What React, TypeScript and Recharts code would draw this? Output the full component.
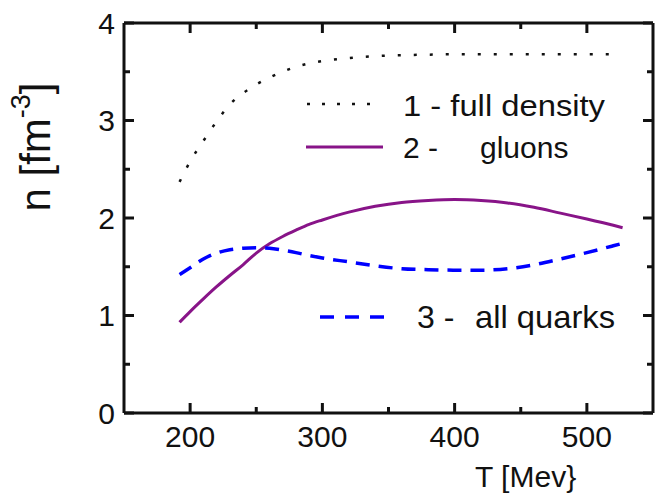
import { LineChart, Line, XAxis, YAxis, Legend, Label } from 'recharts';

const FONT = '"Liberation Sans", Arial, sans-serif';

const T = [192, 200, 210, 220, 230, 240, 250, 260, 270, 280, 290, 300, 320, 340, 360, 380, 400, 420, 440, 460, 480, 500, 520, 527];
const FULL = [2.37, 2.58, 2.79, 2.99, 3.165, 3.28, 3.37, 3.44, 3.5, 3.55, 3.585, 3.61, 3.64, 3.66, 3.67, 3.675, 3.68, 3.68, 3.68, 3.68, 3.68, 3.68, 3.68, null];
const GLUONS = [0.93, 1.04, 1.17, 1.295, 1.41, 1.52, 1.64, 1.735, 1.81, 1.875, 1.935, 1.98, 2.06, 2.12, 2.16, 2.18, 2.19, 2.18, 2.155, 2.11, 2.05, 1.99, 1.925, 1.9];
const QUARKS = [1.42, 1.49, 1.58, 1.64, 1.675, 1.69, 1.695, 1.69, 1.67, 1.645, 1.615, 1.59, 1.55, 1.51, 1.48, 1.47, 1.465, 1.465, 1.48, 1.52, 1.58, 1.645, 1.715, 1.74];

const X_TICKS = [200, 250, 300, 350, 400, 450, 500];
const Y_TICKS = [0, 0.5, 1, 1.5, 2, 2.5, 3, 3.5, 4];

const X_TITLE = 'T [Mev}';
const LABEL_FULL = '1 - full density';
const LABEL_GLUONS = ['2 -', 'gluons'];
const LABEL_QUARKS = ['3 -', 'all quarks'];

const data = T.map((t, i) => ({ T: t, full: FULL[i], gluons: GLUONS[i], quarks: QUARKS[i] }));

const PURPLE = '#881488';
const BLUE = '#0000ff';
const INK = '#111111';
const FRAME_W = 3;

const isMajor = (v: number) => Number.isInteger(v / (v >= 10 ? 100 : 1));

// ticks point into the plot, like the original
const BottomTick = ({ x, y, payload }: any) => {
  const major = isMajor(payload.value);
  return (
    <g>
      <line x1={x} x2={x} y1={y} y2={y - (major ? 10 : 6)} stroke={INK} strokeWidth={FRAME_W} />
      {major && (
        <text x={x} y={y + 34} textAnchor="middle" fontSize={30} fontFamily={FONT} fill={INK}>
          {payload.value}
        </text>
      )}
    </g>
  );
};

const TopTick = ({ x, y, payload }: any) => {
  const major = isMajor(payload.value);
  return <line x1={x} x2={x} y1={y} y2={y + (major ? 10 : 6)} stroke={INK} strokeWidth={FRAME_W} />;
};

const LeftTick = ({ x, y, payload }: any) => {
  const major = isMajor(payload.value);
  return (
    <g>
      <line x1={x} x2={x + (major ? 10 : 6)} y1={y} y2={y} stroke={INK} strokeWidth={FRAME_W} />
      {major && (
        <text x={x - 9} y={y} dy="0.36em" textAnchor="end" fontSize={30} fontFamily={FONT} fill={INK}>
          {payload.value}
        </text>
      )}
    </g>
  );
};

const RightTick = ({ x, y, payload }: any) => {
  const major = isMajor(payload.value);
  return <line x1={x} x2={x - (major ? 10 : 6)} y1={y} y2={y} stroke={INK} strokeWidth={FRAME_W} />;
};

const renderLegend = () => (
  <svg width={655} height={494} style={{ position: 'absolute', left: 0, top: 0 }}>
    <g fontFamily={FONT} fill={INK}>
      <line x1={307} x2={372} y1={104} y2={104} stroke={INK} strokeWidth={2.5} strokeDasharray="3 12" />
      <text x={403} y={116} fontSize={30} textLength={202} lengthAdjust="spacingAndGlyphs">{LABEL_FULL}</text>

      <line x1={306} x2={383} y1={147} y2={147} stroke={PURPLE} strokeWidth={3} />
      <text x={403} y={158} fontSize={30}>{LABEL_GLUONS[0]}</text>
      <text x={480} y={158} fontSize={30}>{LABEL_GLUONS[1]}</text>

      <line x1={320} x2={384} y1={317} y2={317} stroke={BLUE} strokeWidth={3.5} strokeDasharray="14 11" />
      <text x={417} y={328} fontSize={32}>{LABEL_QUARKS[0]}</text>
      <text x={475} y={328} fontSize={32} textLength={140} lengthAdjust="spacingAndGlyphs">{LABEL_QUARKS[1]}</text>
    </g>
  </svg>
);

export default function App() {
  return (
    <div style={{ position: 'absolute', left: 0, top: 0, background: '#fff' }}>
      <LineChart width={655} height={494} data={data} margin={{ top: 22, right: 1, bottom: 0, left: 0 }}>
        <XAxis
          xAxisId="b"
          type="number"
          dataKey="T"
          domain={[150, 550]}
          ticks={X_TICKS}
          interval={0}
          allowDataOverflow
          height={81}
          tickSize={0}
          tickMargin={0}
          tickLine={false}
          axisLine={{ stroke: INK, strokeWidth: FRAME_W }}
          tick={BottomTick}
        >
          <Label
            content={() => (
              <text x={475} y={487} fontSize={30} fontFamily={FONT} fill={INK}>{X_TITLE}</text>
            )}
          />
        </XAxis>
        <XAxis
          xAxisId="t"
          orientation="top"
          type="number"
          dataKey="T"
          domain={[150, 550]}
          ticks={X_TICKS}
          interval={0}
          allowDataOverflow
          height={1}
          tickSize={0}
          tickMargin={0}
          tickLine={false}
          axisLine={{ stroke: INK, strokeWidth: FRAME_W }}
          tick={TopTick}
        />
        <YAxis
          yAxisId="l"
          type="number"
          domain={[0, 4]}
          ticks={Y_TICKS}
          interval={0}
          allowDataOverflow
          width={124}
          tickSize={0}
          tickMargin={0}
          tickLine={false}
          axisLine={{ stroke: INK, strokeWidth: FRAME_W }}
          tick={LeftTick}
        >
          <Label
            content={() => (
              <text
                x={50}
                y={147}
                textAnchor="middle"
                fontSize={42}
                fontFamily={FONT}
                fill={INK}
                transform="rotate(-90, 50, 147)"
              >
                n [fm
                <tspan fontSize={27} dy={-20}>-3</tspan>
                <tspan dy={20}>]</tspan>
              </text>
            )}
          />
        </YAxis>
        <YAxis
          yAxisId="r"
          orientation="right"
          type="number"
          domain={[0, 4]}
          ticks={Y_TICKS}
          interval={0}
          allowDataOverflow
          width={1}
          tickSize={0}
          tickMargin={0}
          tickLine={false}
          axisLine={{ stroke: INK, strokeWidth: FRAME_W }}
          tick={RightTick}
        />
        <Legend
          layout="vertical"
          align="center"
          verticalAlign="middle"
          content={renderLegend}
          wrapperStyle={{ left: 0, top: 0, width: 655, height: 494, pointerEvents: 'none' }}
        />
        <Line
          xAxisId="b"
          yAxisId="l"
          dataKey="full"
          type="monotone"
          stroke={INK}
          strokeWidth={2.5}
          strokeDasharray="3 13"
          dot={false}
          isAnimationActive={false}
        />
        <Line
          xAxisId="b"
          yAxisId="l"
          dataKey="gluons"
          type="monotone"
          stroke={PURPLE}
          strokeWidth={3}
          dot={false}
          isAnimationActive={false}
        />
        {/* quarks sit on the top/right axes (same domains) so those frame axes get drawn */}
        <Line
          xAxisId="t"
          yAxisId="r"
          dataKey="quarks"
          type="monotone"
          stroke={BLUE}
          strokeWidth={3.5}
          strokeDasharray="14 9"
          dot={false}
          isAnimationActive={false}
        />
      </LineChart>
    </div>
  );
}
